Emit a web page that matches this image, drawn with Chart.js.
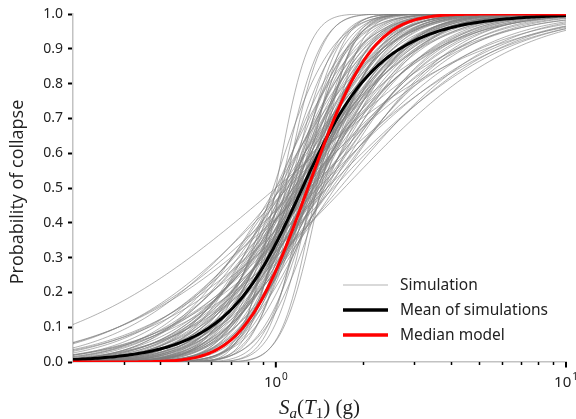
<!DOCTYPE html>
<html lang="en">
<head>
<meta charset="UTF-8">
<title>Collapse fragility curves</title>
<script src="https://cdn.jsdelivr.net/npm/chart.js"></script>
<style>
  html, body { margin: 0; padding: 0; background: #fff; }
  #wrap { width: 576px; height: 419px; }
</style>
</head>
<body>
<div id="wrap"><canvas id="fragilityChart"></canvas></div>
<script>
// Lognormal fragility of each simulation: median Sa(T1) in g and dispersion
const simMedian = [
  1.00, 1.04, 1.08, 1.12, 1.15, 1.18, 1.22, 1.26, 1.30, 1.34, 1.38, 1.43,
  0.98, 1.02, 1.05, 1.07, 1.10, 1.12, 1.14, 1.17, 1.19, 1.21, 1.23, 1.25, 1.28, 1.31, 1.34, 1.37, 1.40, 1.45,
  1.00, 1.03, 1.06, 1.08, 1.10, 1.12, 1.14, 1.16, 1.18, 1.20, 1.22, 1.24, 1.26, 1.28, 1.30, 1.32, 1.35, 1.38, 1.41, 1.44, 1.47, 1.50,
  1.16, 1.19, 1.23, 1.27, 1.29, 1.33, 1.36, 1.24, 1.31, 1.21, 1.26, 1.34, 1.18, 1.39,
  1.00, 1.04, 1.07, 1.09, 1.12, 1.15, 1.17, 1.20, 1.22, 1.25, 1.27, 1.30, 1.32, 1.35, 1.38, 1.41, 1.44, 1.47, 1.50, 1.53, 1.56, 1.60,
  1.00, 1.05, 1.10, 1.15, 1.20, 1.25, 1.30, 1.35, 1.40, 1.45, 1.50, 1.58, 1.66, 1.72
];
const simBeta = [
  0.20, 0.24, 0.22, 0.27, 0.30, 0.25, 0.28, 0.22, 0.26, 0.24, 0.21, 0.23,
  0.36, 0.42, 0.33, 0.40, 0.44, 0.35, 0.38, 0.42, 0.31, 0.37, 0.44, 0.34, 0.40, 0.36, 0.43, 0.32, 0.39, 0.35,
  0.50, 0.56, 0.48, 0.60, 0.53, 0.46, 0.58, 0.51, 0.55, 0.49, 0.61, 0.47, 0.54, 0.58, 0.50, 0.62, 0.46, 0.55, 0.52, 0.59, 0.49, 0.57,
  0.45, 0.52, 0.41, 0.57, 0.48, 0.44, 0.53, 0.62, 0.39, 0.66, 0.50, 0.58, 0.71, 0.47,
  0.66, 0.74, 0.70, 0.82, 0.64, 0.77, 0.68, 0.72, 0.84, 0.65, 0.79, 0.70, 0.75, 0.63, 0.81, 0.69, 0.76, 0.72, 0.85, 0.67, 0.78, 0.73,
  1.30, 0.95, 1.05, 0.90, 1.12, 0.98, 1.18, 0.88, 1.08, 0.96, 1.10, 1.02, 0.92, 1.05
];
// median model: [median Sa, dispersion]
const medianModel = [1.29, 0.40];

const saRange = [0.2, 10];
const yTicks = [0, 0.1, 0.2, 0.3, 0.4, 0.5, 0.6, 0.7, 0.8, 0.9, 1.0];
const xMajorTicks = [1, 10];
const xMinorTicks = [0.3, 0.4, 0.5, 0.6, 0.7, 0.8, 0.9, 2, 3, 4, 5, 6, 7, 8, 9];

// standard normal CDF (Abramowitz & Stegun 26.2.17)
function normCdf(z) {
  const t = 1 / (1 + 0.2316419 * Math.abs(z));
  const d = 0.3989423 * Math.exp(-z * z / 2);
  const p = d * t * (0.3193815 + t * (-0.3565638 + t * (1.781478 + t * (-1.821256 + t * 1.330274))));
  return z > 0 ? 1 - p : p;
}

// Sa values where curves are evaluated (log spaced over the axis)
const sampleSa = [];
for (let i = 0; i <= 200; i++) sampleSa.push(saRange[0] * Math.pow(saRange[1] / saRange[0], i / 200));

function fragility(theta, beta) {
  return sampleSa.map(sa => ({ x: sa, y: normCdf(Math.log(sa / theta) / beta) }));
}

const simCurves = simMedian.map((m, i) => fragility(m, simBeta[i]));
const meanCurve = sampleSa.map((sa, k) => ({
  x: sa,
  y: simCurves.reduce((s, c) => s + c[k].y, 0) / simCurves.length
}));

const SIM_COLOR = 'rgba(125,125,125,0.6)';

const datasets = [
  { label: 'Median model', data: fragility(medianModel[0], medianModel[1]), borderColor: '#ff0000', borderWidth: 3 },
  { label: 'Mean of simulations', data: meanCurve, borderColor: '#000000', borderWidth: 3 },
  ...simCurves.map(c => ({ label: 'Simulation', data: c, borderColor: SIM_COLOR, borderWidth: 1 }))
];

// axis decorations: x ticks + power-of-ten labels, axis titles, legend
const decor = {
  id: 'decor',
  afterDraw(chart) {
    const { ctx, chartArea: a, scales: { x } } = chart;
    ctx.save();

    // x ticks
    ctx.strokeStyle = '#000';
    ctx.lineWidth = 1.5;
    xMinorTicks.forEach(v => {
      const px = Math.round(x.getPixelForValue(v)) + 0.5;
      ctx.beginPath(); ctx.moveTo(px, a.bottom); ctx.lineTo(px, a.bottom + 3); ctx.stroke();
    });
    ctx.lineWidth = 2;
    xMajorTicks.forEach(v => {
      const px = x.getPixelForValue(v);
      ctx.beginPath(); ctx.moveTo(px, a.bottom); ctx.lineTo(px, a.bottom + 5.5); ctx.stroke();
    });

    // x tick labels 10^n
    ctx.fillStyle = '#222';
    ctx.textBaseline = 'alphabetic';
    xMajorTicks.forEach(v => {
      const px = x.getPixelForValue(v);
      const exp = String(Math.round(Math.log10(v)));
      ctx.font = '15px "Noto Sans"';
      const wb = ctx.measureText('10').width;
      ctx.font = '10px "Noto Sans"';
      const we = ctx.measureText(exp).width;
      const x0 = px - (wb + we + 1) / 2;
      ctx.font = '15px "Noto Sans"';
      ctx.fillText('10', x0, 387);
      ctx.font = '10px "Noto Sans"';
      ctx.fillText(exp, x0 + wb + 1, 380);
    });

    // x title: Sa(T1) (g)
    const parts = [
      { t: 'S', f: 'italic 21px "Liberation Serif"', dy: 0 },
      { t: 'a', f: 'italic 15px "Liberation Serif"', dy: 4 },
      { t: '(', f: '21px "Liberation Serif"', dy: 0 },
      { t: 'T', f: 'italic 21px "Liberation Serif"', dy: 0 },
      { t: '1', f: '15px "Liberation Serif"', dy: 4 },
      { t: ') (g)', f: '21px "Liberation Serif"', dy: 0 }
    ];
    let total = 0;
    parts.forEach(p => { ctx.font = p.f; p.w = ctx.measureText(p.t).width; total += p.w; });
    let cx = (a.left + a.right) / 2 - total / 2;
    parts.forEach(p => { ctx.font = p.f; ctx.fillText(p.t, cx, 414 + p.dy); cx += p.w; });

    // y title
    ctx.save();
    ctx.translate(23, (a.top + a.bottom) / 2 + 4);
    ctx.rotate(-Math.PI / 2);
    ctx.font = '18px "Open Sans"';
    ctx.textAlign = 'center';
    ctx.fillText('Probability of collapse', 0, 0);
    ctx.restore();

    // legend inside the plot, lower right
    const order = ['Simulation', 'Mean of simulations', 'Median model'];
    order.forEach((label, i) => {
      const ds = chart.data.datasets.find(d => d.label === label);
      const yy = 285 + i * 25;
      ctx.strokeStyle = label === 'Simulation' ? '#b4b4b4' : ds.borderColor;
      ctx.lineWidth = ds.borderWidth === 1 ? 1.2 : 3.5;
      ctx.beginPath(); ctx.moveTo(343, yy); ctx.lineTo(388, yy); ctx.stroke();
      ctx.fillStyle = '#222';
      ctx.font = '15.5px "Noto Sans"';
      ctx.textBaseline = 'middle';
      ctx.fillText(label, 400, yy + 1);
    });
    ctx.restore();
  }
};

new Chart(document.getElementById('fragilityChart'), {
  type: 'line',
  data: { datasets },
  options: {
    responsive: true,
    maintainAspectRatio: false,
    animation: false,
    parsing: false,
    normalized: true,
    events: [],
    layout: { padding: { left: 0, top: 14, right: 10, bottom: 57 } },
    elements: {
      point: { radius: 0 },
      line: { tension: 0, fill: false, borderCapStyle: 'round' }
    },
    plugins: { legend: { display: false }, tooltip: { enabled: false } },
    scales: {
      x: {
        type: 'logarithmic',
        min: saRange[0],
        max: saRange[1],
        grid: { display: false },
        ticks: { display: false },
        border: { display: true, color: '#c2c2c2', width: 1.5 },
        afterFit: s => { s.height = 0; }
      },
      y: {
        type: 'linear',
        min: 0,
        max: 1,
        afterBuildTicks: s => { s.ticks = yTicks.map(v => ({ value: v })); },
        grid: { drawOnChartArea: false, tickLength: 5, tickColor: '#000', tickWidth: 2 },
        border: { display: true, color: '#c2c2c2', width: 1.5 },
        ticks: {
          padding: 5,
          color: '#222',
          font: { family: 'Noto Sans', size: 14 },
          callback: v => v.toFixed(1)
        },
        afterFit: s => { s.width = 73; }
      }
    }
  },
  plugins: [decor]
});
</script>
</body>
</html>
